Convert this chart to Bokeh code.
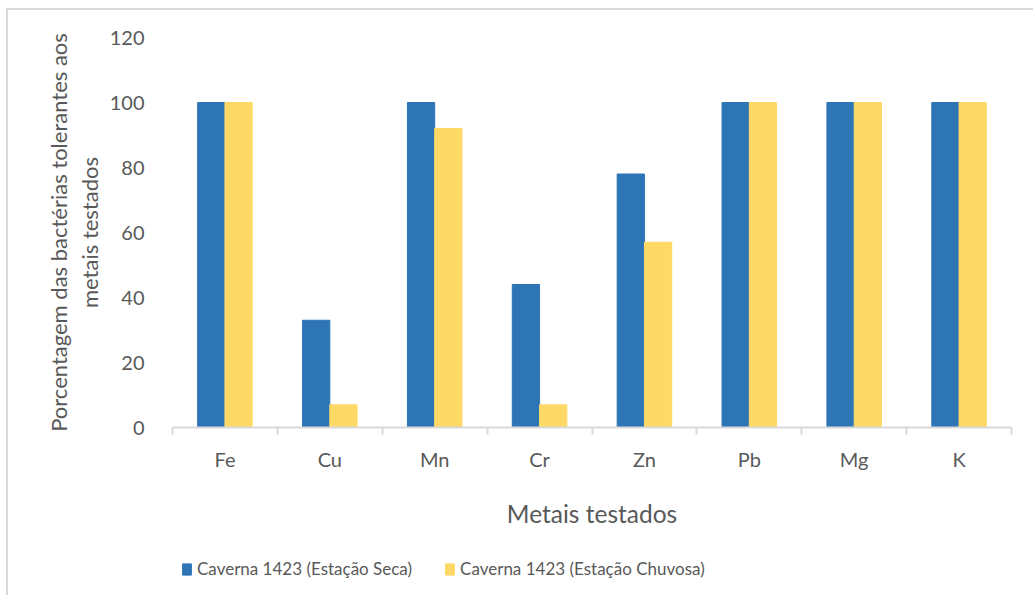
from bokeh.plotting import figure
from bokeh.layouts import column
from bokeh.models import (ColumnDataSource, FixedTicker, Legend, LegendItem,
                          Range1d)
from bokeh.embed import file_html
from bokeh.resources import INLINE

# Data
metais = ["Fe", "Cu", "Mn", "Cr", "Zn", "Pb", "Mg", "K"]
seca = [100, 33, 100, 44, 78, 100, 100, 100]
chuvosa = [100, 7, 92, 7, 57, 100, 100, 100]
y_ticks = [0, 20, 40, 60, 80, 100, 120]
series_names = ["Caverna 1423 (Estação Seca)", "Caverna 1423 (Estação Chuvosa)"]

BLUE = "#2E75B6"
YELLOW = "#FFD966"
TEXT = "#595959"
GRID = "#D9D9D9"
FONT = "Lato"

centers = [i + 0.5 for i in range(len(metais))]
bar_w = 0.26
src = ColumnDataSource(dict(
    x_seca=[c - bar_w / 2 for c in centers],
    x_chuv=[c + bar_w / 2 for c in centers],
    seca=seca, chuvosa=chuvosa,
))

p = figure(width=1026, height=535, output_backend="svg", toolbar_location=None,
           x_range=Range1d(0, len(metais)), y_range=Range1d(0, 120),
           min_border_left=164, min_border_right=23,
           min_border_top=27, min_border_bottom=118)
p.outline_line_color = None
p.xgrid.visible = False
p.ygrid.visible = False

p.vbar(x="x_seca", top="seca", width=bar_w, source=src,
       fill_color=BLUE, line_color=BLUE)
p.vbar(x="x_chuv", top="chuvosa", width=bar_w, source=src,
       fill_color=YELLOW, line_color=YELLOW)

# x axis: category names at centers, tick marks at group boundaries
xax = p.xaxis[0]
xax.ticker = FixedTicker(ticks=centers, minor_ticks=list(range(len(metais) + 1)))
xax.major_label_overrides = {c: m for c, m in zip(centers, metais)}
xax.major_tick_line_color = None
xax.minor_tick_line_color = GRID
xax.minor_tick_line_width = 2
xax.minor_tick_out = 7
xax.minor_tick_in = 0
xax.axis_line_color = GRID
xax.axis_line_width = 2
xax.major_label_standoff = 12
xax.major_label_text_font = FONT
xax.major_label_text_font_size = "20px"
xax.major_label_text_color = TEXT
xax.axis_label = "Metais testados"
xax.axis_label_text_font = FONT
xax.axis_label_text_font_size = "24.5px"
xax.axis_label_text_font_style = "normal"
xax.axis_label_text_color = TEXT
xax.axis_label_standoff = 25

yax = p.yaxis[0]
yax.ticker = FixedTicker(ticks=y_ticks)
yax.axis_line_color = None
yax.major_tick_line_color = None
yax.minor_tick_line_color = None
yax.major_label_standoff = 22
yax.major_label_text_font = FONT
yax.major_label_text_font_size = "20px"
yax.major_label_text_color = TEXT
yax.axis_label = "Porcentagem das bactérias tolerantes aos\nmetais testados"
yax.axis_label_text_font = FONT
yax.axis_label_text_font_size = "22px"
yax.axis_label_text_font_style = "normal"
yax.axis_label_text_color = TEXT
yax.axis_label_text_line_height = 1.15
yax.axis_label_standoff = 4

# legend strip underneath the chart (key glyphs sit outside its visible range)
lg = figure(width=1026, height=50, output_backend="svg", toolbar_location=None,
            x_range=Range1d(0, 1), y_range=Range1d(0, 1),
            x_axis_type=None, y_axis_type=None,
            min_border_left=0, min_border_right=0,
            min_border_top=0, min_border_bottom=0)
lg.outline_line_color = None
lg.xgrid.visible = False
lg.ygrid.visible = False
key_src = ColumnDataSource(dict(x=[-5], top=[0]))
k1 = lg.vbar(x="x", top="top", width=0.1, source=key_src,
             fill_color=BLUE, line_color=BLUE)
k2 = lg.vbar(x="x", top="top", width=0.1, source=key_src,
             fill_color=YELLOW, line_color=YELLOW)

legend = Legend(items=[
    LegendItem(label=series_names[0], renderers=[k1], index=0),
    LegendItem(label=series_names[1], renderers=[k2], index=0),
], orientation="horizontal", location=(9, 16))
legend.border_line_color = None
legend.background_fill_alpha = 0
legend.padding = 0
legend.margin = 0
legend.spacing = 32
legend.glyph_width = 11
legend.glyph_height = 14
legend.label_standoff = 5
legend.label_text_font = FONT
legend.label_text_font_size = "17px"
legend.label_text_color = TEXT
lg.add_layout(legend, "center")

page = column(p, lg, spacing=0,
              styles={"margin-left": "6px", "margin-top": "8px",
                      "border-left": "2px solid #D9D9D9",
                      "border-top": "2px solid #D9D9D9"})

open("out.html", "w").write(file_html(page, INLINE))
